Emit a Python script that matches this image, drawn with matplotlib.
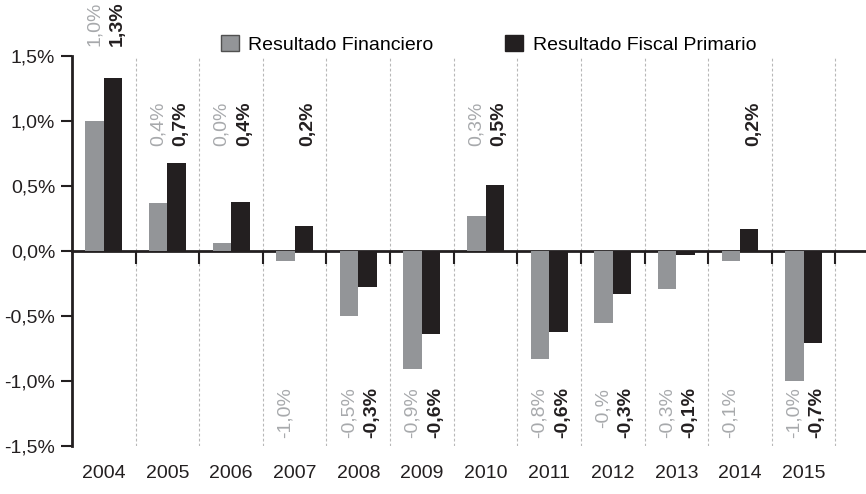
import numpy as np
import matplotlib
matplotlib.use('Agg')
import matplotlib.pyplot as plt
from matplotlib.patches import Patch

plt.rcParams['font.family'] = ['Liberation Sans Narrow', 'Liberation Sans', 'DejaVu Sans']

years = ['2004', '2005', '2006', '2007', '2008', '2009', '2010',
         '2011', '2012', '2013', '2014', '2015']
financiero = [1.00, 0.37, 0.06, -0.08, -0.50, -0.91, 0.27, -0.83, -0.55, -0.29, -0.08, -1.00]
primario = [1.33, 0.68, 0.38, 0.19, -0.28, -0.64, 0.51, -0.62, -0.33, -0.03, 0.17, -0.71]
lab_fin = ['1,0%', '0,4%', '0,0%', '-1,0%', '-0,5%', '-0,9%', '0,3%',
           '-0,8%', '-0,%', '-0,3%', '-0,1%', '-1,0%']
lab_pri = ['1,3%', '0,7%', '0,4%', '0,2%', '-0,3%', '-0,6%', '0,5%',
           '-0,6%', '-0,3%', '-0,1%', '0,2%', '-0,7%']

GRAY = '#939598'
BLACK = '#231f20'
LGRAY = '#a7a9ac'

x = np.arange(len(years))
w = 0.29

fig = plt.figure(figsize=(8.66, 4.94), dpi=100)
fig.patch.set_facecolor('white')
ax = fig.add_axes([72/866, 48/494, 1 - 72/866, (446-56)/494])

ax.bar(x - w/2, financiero, w, color=GRAY, zorder=3)
ax.bar(x + w/2, primario, w, color=BLACK, zorder=3)

# value labels (rotated), positives on top, negatives below
for i in range(len(years)):
    for val, txt, dx, col, wt in [(financiero[i], lab_fin[i], -0.15, LGRAY, 'normal'),
                                  (primario[i], lab_pri[i], 0.21, BLACK, 'bold')]:
        if val >= 0:
            yy = 1.58 if i == 0 else 0.81
            va = 'bottom'
        else:
            yy = -1.05
            va = 'top'
        ax.text(i + dx, yy, txt, rotation=90, ha='center', va=va, color=col,
                fontsize=14, fontweight=wt, clip_on=False, zorder=4)

ax.set_xlim(-0.5, 11.98)
ax.set_ylim(-1.5, 1.5)
ax.set_yticks([-1.5, -1.0, -0.5, 0.0, 0.5, 1.0, 1.5])
ax.set_yticklabels(['-1,5%', '-1,0%', '-0,5%', '0,0%', '0,5%', '1,0%', '1,5%'])
ax.tick_params(axis='y', length=8, width=1.5, labelsize=14, pad=4, colors=BLACK)

# zero line as bottom spine, boundary ticks + dashed grid
ax.spines['top'].set_visible(False)
ax.spines['right'].set_visible(False)
ax.spines['bottom'].set_position(('data', 0))
ax.spines['bottom'].set_linewidth(2)
ax.spines['bottom'].set_color(BLACK)
ax.spines['left'].set_linewidth(2)
ax.spines['left'].set_color(BLACK)
ax.set_xticks(x + 0.5, minor=True)
ax.set_xticks([])
ax.tick_params(axis='x', which='minor', length=9, width=1.5, color=BLACK)
ax.grid(which='minor', axis='x', linestyle=(0, (2.5, 2)), color='#b8b8b8', linewidth=0.8, zorder=0)

sec = ax.secondary_xaxis(0)
sec.set_xticks(x)
sec.set_xticklabels(years)
sec.tick_params(length=0, labelsize=14, pad=14, colors=BLACK)
sec.spines['bottom'].set_visible(False)

handles = [Patch(facecolor=GRAY, edgecolor='#505050', linewidth=1),
           Patch(facecolor=BLACK, edgecolor=BLACK)]
fig.legend(handles, ['Resultado Financiero', 'Resultado Fiscal Primario'],
           loc='upper left', bbox_to_anchor=(221/866, 1 - 35/494), ncol=2,
           frameon=False, fontsize=14, handlelength=0.9, handleheight=0.9,
           handletextpad=0.5, columnspacing=3.7, borderpad=0, borderaxespad=0)

# title sits above the visible area in the reference; only its bottom edge shows
fig.text(0.5, 1.0 + 5/494, 'Superávit financiero y primario del Sector Público Nacional',
         ha='center', va='baseline', fontsize=15, fontweight='bold', color=BLACK)

fig.savefig('out.png', dpi=100)
